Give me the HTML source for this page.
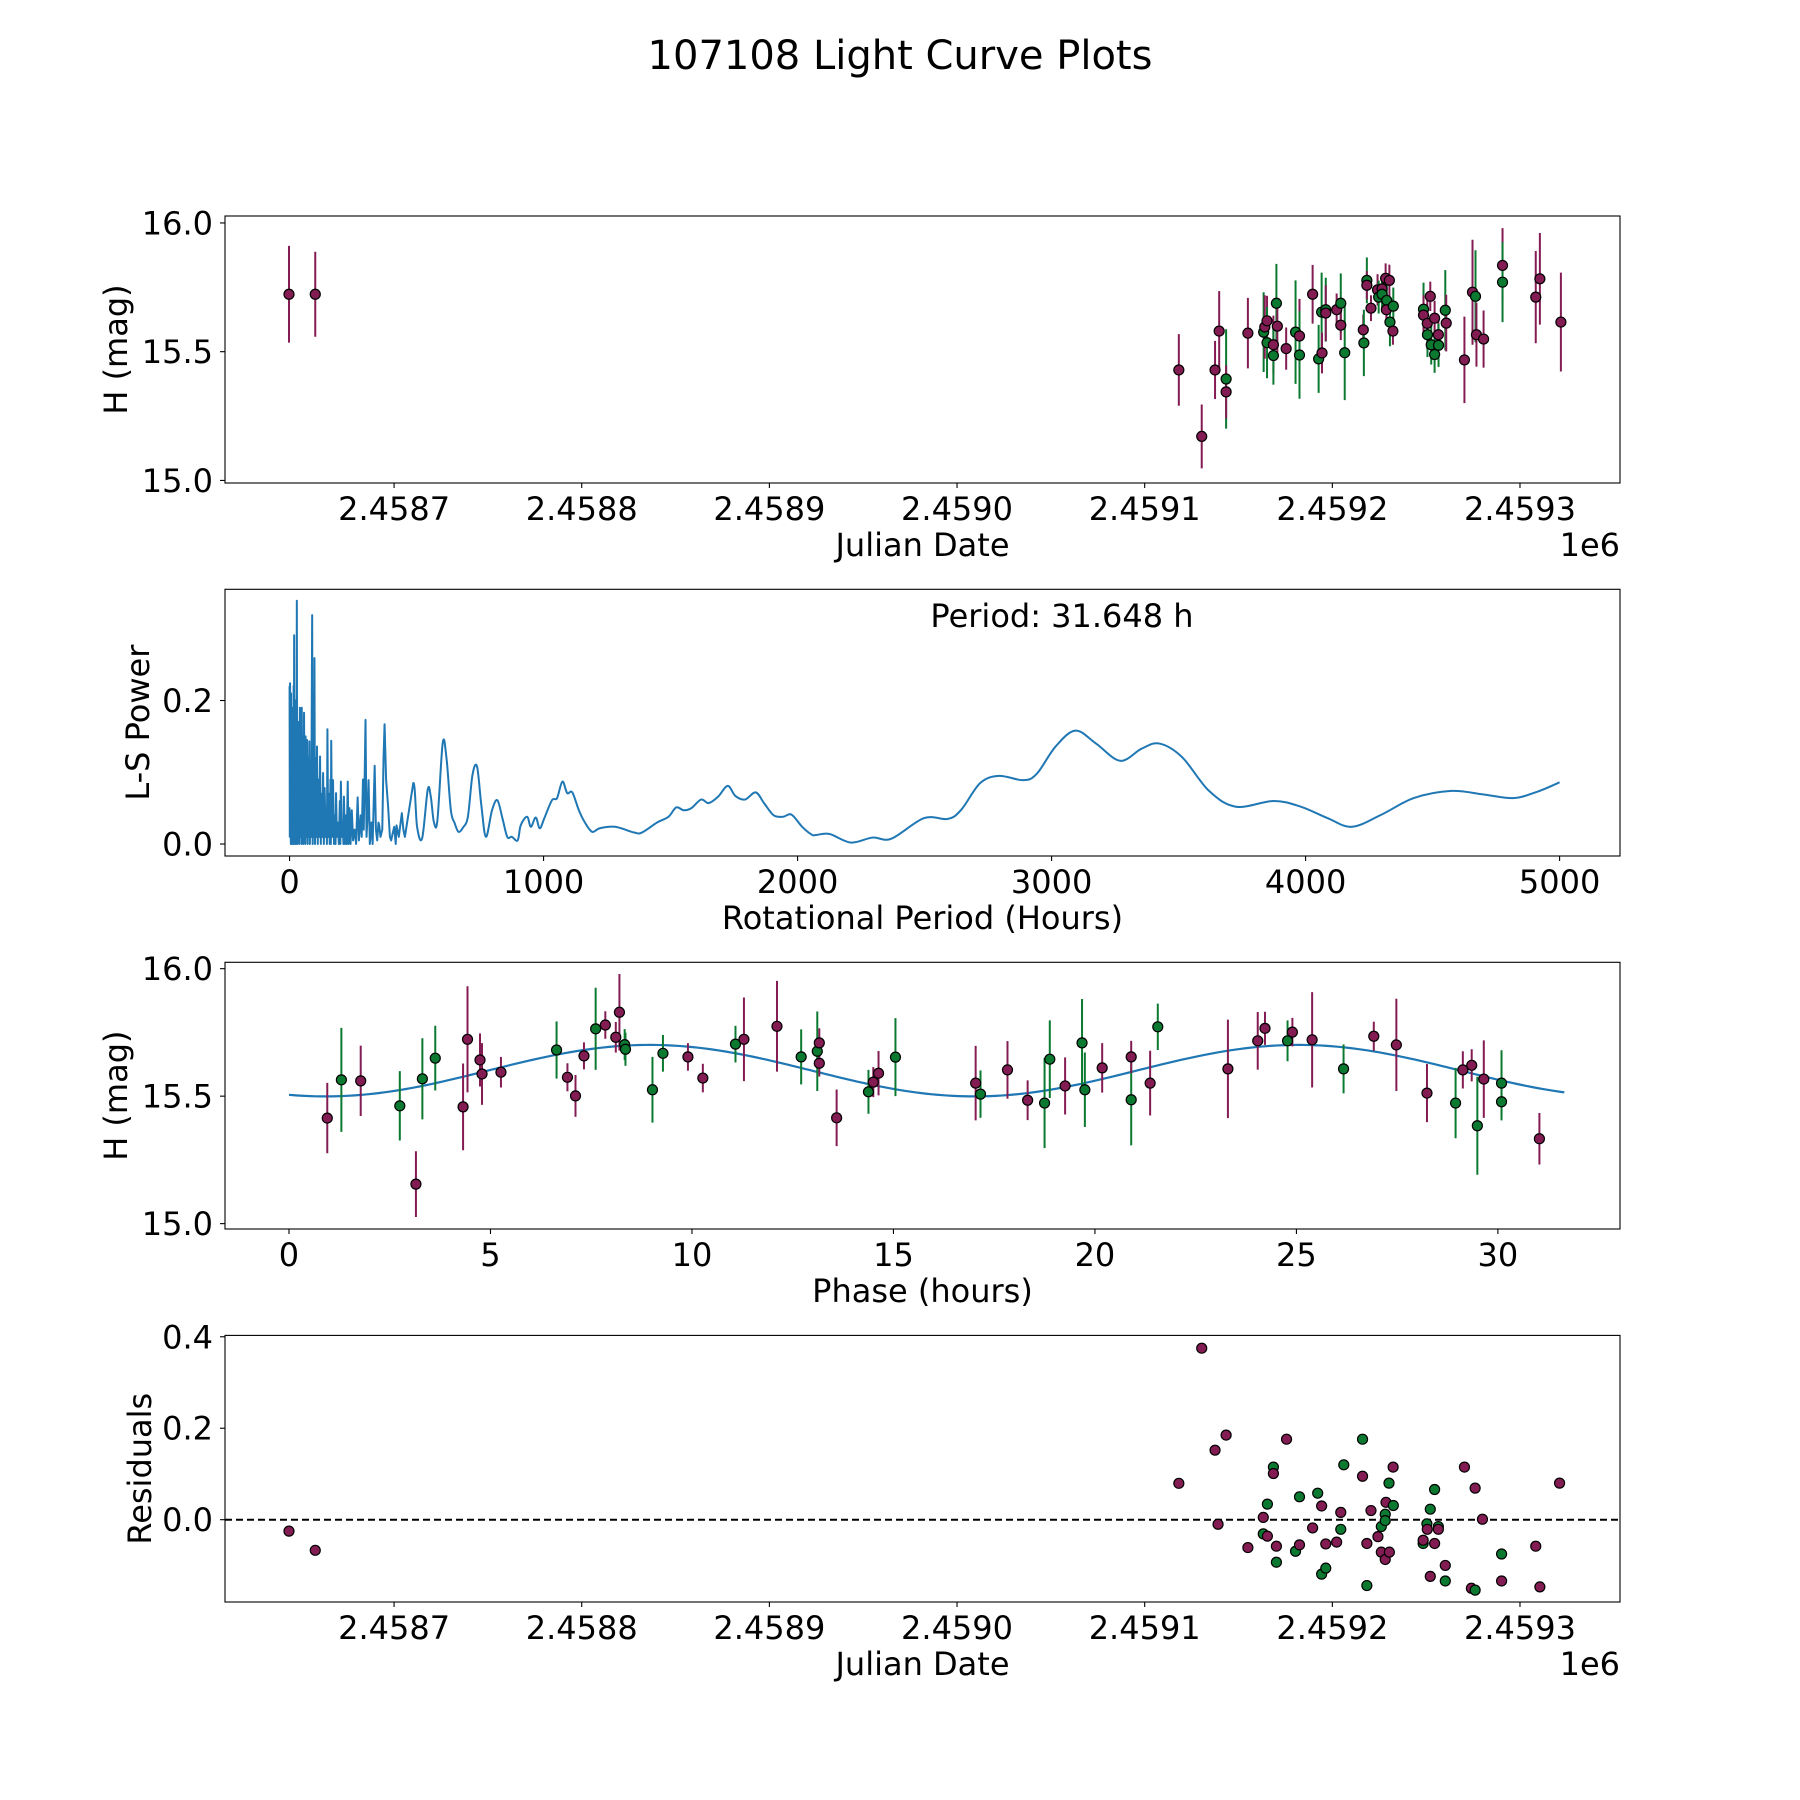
<!DOCTYPE html>
<html><head><meta charset="utf-8"><title>107108 Light Curve Plots</title>
<style>html,body{margin:0;padding:0;background:#fff}svg{display:block}text{font-family:"DejaVu Sans","Liberation Sans",sans-serif;fill:#000}</style>
</head><body>
<svg id="fig" xmlns="http://www.w3.org/2000/svg" width="1800" height="1800" viewBox="0 0 1800 1800">
<rect x="0" y="0" width="1800" height="1800" fill="#fff"/>
<text x="900" y="69" font-size="40" text-anchor="middle">107108 Light Curve Plots</text>
</svg>
<script>
// ---- Panel 1: light curve (JD, mag, err, band) ----
const lcJD=[2458644,2458658,2459118.2,2459130.4,2459137.5,2459139.7,2459143.4,2459143.4,2459155.0,2459163.4,2459164.0,2459165.2,2459165.2,2459168.6,2459168.6,2459170.2,2459170.7,2459175.4,2459180.4,2459182.5,2459182.5,2459189.5,2459192.7,2459194.3,2459194.5,2459196.5,2459196.5,2459202.3,2459204.5,2459204.5,2459206.6,2459216.5,2459216.8,2459218.4,2459218.4,2459220.6,2459224.1,2459224.7,2459226.5,2459226.5,2459228.4,2459229.0,2459228.8,2459230.4,2459230.7,2459232.5,2459232.3,2459248.6,2459248.6,2459250.6,2459250.7,2459252.2,2459252.7,2459254.5,2459254.5,2459256.5,2459256.6,2459260.2,2459260.7,2459270.4,2459274.7,2459276.3,2459276.8,2459280.6,2459290.7,2459290.7,2459308.4,2459310.6,2459321.8];
const lcMag=[15.723,15.723,15.429,15.171,15.429,15.580,15.394,15.344,15.572,15.576,15.596,15.620,15.535,15.527,15.485,15.688,15.599,15.512,15.576,15.561,15.487,15.723,15.472,15.654,15.495,15.663,15.650,15.663,15.688,15.603,15.496,15.585,15.534,15.777,15.758,15.669,15.740,15.712,15.744,15.723,15.785,15.699,15.663,15.777,15.615,15.677,15.580,15.665,15.642,15.610,15.566,15.715,15.527,15.630,15.489,15.566,15.525,15.661,15.611,15.468,15.731,15.715,15.566,15.549,15.835,15.770,15.712,15.783,15.615];
const lcErr=[0.188,0.165,0.139,0.124,0.113,0.155,0.193,0.103,0.137,0.155,0.123,0.097,0.138,0.113,0.113,0.153,0.103,0.082,0.201,0.144,0.170,0.114,0.132,0.153,0.079,0.124,0.108,0.063,0.116,0.058,0.184,0.059,0.129,0.089,0.055,0.050,0.061,0.064,0.052,0.055,0.058,0.061,0.061,0.061,0.094,0.072,0.053,0.103,0.077,0.100,0.087,0.057,0.077,0.068,0.071,0.061,0.084,0.156,0.110,0.168,0.204,0.179,0.124,0.111,0.145,0.155,0.179,0.178,0.192];
const lcBand=['M','M','M','M','M','M','G','M','M','G','M','M','G','M','G','G','M','M','G','M','G','M','G','G','M','G','M','M','G','M','G','M','G','G','M','M','M','G','M','G','M','G','M','M','G','G','M','G','M','M','G','M','G','M','G','M','G','G','M','M','M','G','M','M','M','G','M','M','M'];
const jdTicks=[2458700,2458800,2458900,2459000,2459100,2459200,2459300];
const jdTickLabels=['2.4587','2.4588','2.4589','2.4590','2.4591','2.4592','2.4593'];
const magTicks=[15.0,15.5,16.0];
const magTickLabels=['15.0','15.5','16.0'];

// ---- Panel 2: periodogram ----
const lsPeriod=[0,1,2,3,4,5,6,7,8,9,10,11,12,13,14,15,16,17,18,19,20,21,22,23,24,25,26,27,28.6,30,32,34,36,38,40.6,43,45,47,48,50,52,54,57,59,61,62,63,66,69,71,74,76,78,80,83,85,89,91,94,96,98,100,103,106,108,111,114,117,120,123,126,129,132,135,138,142,145,147,149,152,155,158,161,162.5,164,167,171,175,179,181,183,186,190,194,198,200,202,206,210,212,214,218,222,225,229,232,236,240,245,250,256,262,268,273,280,284,289,292,296,299,303,307,311,316,322,327,335,340,345,350,353,358,365,370,374,380,388,395,400,406,412,418,421,430,442,448,454,487,502,522,544,556,568,582,603,618,635,650,665,683,702,720,738,755,773,797,818,838,857,875,898,910,935,950,969,985,1003,1033,1053,1074,1093,1113,1139,1161,1191,1221,1281,1357,1387,1447,1492,1522,1552,1582,1620,1650,1687,1725,1755,1793,1835,1868,1906,1943,1976,2018,2056,2073,2126,2210,2295,2369,2497,2592,2645,2719,2793,2889,2942,3016,3094,3175,3270,3355,3425,3514,3620,3726,3875,3981,4087,4182,4299,4426,4574,4701,4818,4913,5000];
const lsPower=[0.22,0.01,0.224,0.02,0.18,0.0,0.21,0.01,0.15,0.0,0.19,0.02,0.12,0.0,0.17,0.01,0.22,0.0,0.291,0.01,0.16,0.0,0.14,0.02,0.2,0.0,0.13,0.01,0.339,0.0,0.15,0.01,0.17,0.0,0.19,0.01,0.12,0.0,0.19,0.02,0.14,0.0,0.183,0.01,0.11,0.0,0.15,0.01,0.145,0.0,0.12,0.01,0.143,0.0,0.1,0.01,0.319,0.0,0.2,0.01,0.259,0.0,0.12,0.01,0.136,0.0,0.09,0.01,0.122,0.0,0.07,0.01,0.099,0.0,0.078,0.01,0.05,0.0,0.16,0.01,0.07,0.0,0.09,0.0,0.144,0.01,0.089,0.0,0.04,0.0,0.071,0.01,0.03,0.0,0.06,0.0,0.087,0.01,0.03,0.0,0.066,0.0,0.04,0.0,0.087,0.0,0.05,0.0,0.047,0.005,0.02,0.0,0.065,0.005,0.04,0.01,0.09,0.02,0.1,0.173,0.01,0.04,0.089,0.0,0.03,0.0,0.109,0.02,0.005,0.03,0.026,0.01,0.02,0.12,0.167,0.09,0.052,0.01,0.005,0.015,0.024,0.0,0.026,0.01,0.043,0.02,0.01,0.085,0.024,0.008,0.076,0.066,0.031,0.033,0.141,0.119,0.047,0.029,0.017,0.023,0.038,0.096,0.108,0.054,0.010,0.047,0.061,0.036,0.010,0.010,0.005,0.026,0.038,0.024,0.037,0.022,0.036,0.061,0.064,0.087,0.071,0.072,0.047,0.031,0.017,0.022,0.024,0.016,0.016,0.030,0.038,0.051,0.047,0.050,0.062,0.057,0.066,0.081,0.067,0.062,0.072,0.057,0.040,0.038,0.041,0.024,0.013,0.0126,0.014,0.002,0.009,0.0074,0.036,0.035,0.048,0.085,0.095,0.089,0.098,0.136,0.158,0.140,0.116,0.133,0.140,0.121,0.074,0.052,0.060,0.052,0.036,0.024,0.041,0.064,0.074,0.069,0.064,0.073,0.086];
const perTicks=[0,1000,2000,3000,4000,5000];
const perTickLabels=['0','1000','2000','3000','4000','5000'];
const powTicks=[0.0,0.2];
const powTickLabels=['0.0','0.2'];
const periodLabel='Period: 31.648 h';

// ---- Panel 3: phased light curve ----
const phPhase=[0.95,1.30,1.78,2.75,3.15,3.31,3.63,4.32,4.43,4.74,4.79,5.26,6.64,6.91,7.11,7.32,7.61,7.85,8.11,8.20,8.33,8.35,9.02,9.28,9.90,10.27,11.08,11.29,12.11,12.71,13.11,13.16,13.16,13.59,14.38,14.50,14.63,15.05,17.04,17.16,17.83,18.33,18.75,18.88,19.26,19.68,19.75,20.18,20.90,20.90,21.37,21.56,23.30,24.04,24.22,24.78,24.90,25.39,26.17,26.92,27.48,28.24,28.95,29.13,29.35,29.49,29.65,30.09,30.09,31.03];
const phMag=[15.414,15.564,15.560,15.462,15.155,15.568,15.649,15.458,15.723,15.642,15.587,15.594,15.681,15.574,15.501,15.658,15.764,15.779,15.731,15.829,15.702,15.684,15.525,15.668,15.654,15.571,15.704,15.723,15.774,15.654,15.676,15.709,15.629,15.415,15.517,15.555,15.590,15.653,15.551,15.508,15.603,15.484,15.473,15.645,15.540,15.709,15.525,15.611,15.486,15.654,15.551,15.772,15.607,15.717,15.766,15.717,15.751,15.721,15.607,15.735,15.701,15.512,15.473,15.603,15.621,15.384,15.567,15.551,15.478,15.333];
const phErr=[0.138,0.204,0.138,0.136,0.129,0.159,0.127,0.170,0.208,0.104,0.121,0.060,0.112,0.055,0.082,0.053,0.161,0.054,0.060,0.150,0.061,0.065,0.129,0.072,0.054,0.056,0.072,0.164,0.178,0.108,0.156,0.057,0.052,0.111,0.086,0.059,0.087,0.153,0.146,0.093,0.113,0.078,0.177,0.152,0.112,0.172,0.146,0.097,0.179,0.063,0.127,0.091,0.193,0.113,0.065,0.080,0.056,0.187,0.096,0.057,0.181,0.114,0.138,0.073,0.063,0.192,0.152,0.129,0.073,0.101];
const phBand=['M','G','M','G','M','G','G','M','M','M','M','M','G','M','M','M','G','M','M','M','G','G','G','G','M','M','G','M','M','G','G','M','M','M','G','M','M','G','M','G','M','M','G','G','M','G','G','M','G','M','M','G','M','M','M','G','M','M','G','M','M','M','G','M','M','G','M','G','G','M'];
const phTicks=[0,5,10,15,20,25,30];
const phTickLabels=['0','5','10','15','20','25','30'];
// fitted sinusoid model parameters
const modelMean=[15.600];
const modelAmp=[0.101];
const modelZero=[4.93];
const modelSubPeriod=[16.1];
const modelRange=[0,31.648];

// ---- Panel 4: residuals ----
const resJD=[2458644,2458658,2459118.2,2459130.4,2459137.5,2459139.1,2459143.4,2459155.0,2459163.2,2459163.2,2459165.4,2459165.4,2459168.6,2459168.6,2459170.2,2459170.2,2459175.6,2459180.4,2459182.5,2459182.5,2459189.5,2459192.2,2459194.3,2459194.3,2459196.5,2459196.5,2459202.3,2459204.5,2459204.5,2459206.1,2459216.1,2459216.1,2459218.4,2459218.4,2459220.6,2459224.3,2459226.1,2459226.1,2459228.2,2459228.2,2459228.2,2459228.6,2459230.2,2459230.4,2459232.4,2459232.5,2459248.4,2459248.4,2459250.4,2459250.6,2459252.2,2459252.2,2459254.5,2459254.5,2459256.5,2459256.5,2459260.2,2459260.2,2459270.4,2459274.1,2459276.1,2459276.1,2459280.0,2459290.2,2459290.2,2459308.4,2459310.6,2459321.1];
const resVal=[-0.025,-0.067,0.0795,0.375,0.152,-0.010,0.185,-0.061,-0.031,0.005,0.034,-0.036,0.115,0.101,-0.058,-0.093,0.176,-0.069,0.050,-0.055,-0.018,0.058,0.030,-0.119,-0.106,-0.053,-0.049,0.016,-0.021,0.120,0.176,0.095,-0.052,-0.144,0.020,-0.037,-0.015,-0.071,0.012,-0.002,-0.087,0.038,0.080,-0.071,0.115,0.031,-0.052,-0.045,-0.009,-0.021,0.023,-0.124,0.066,-0.052,-0.015,-0.021,-0.100,-0.134,0.115,-0.150,-0.154,0.069,0.001,-0.075,-0.134,-0.058,-0.147,0.080];
const resBand=['M','M','M','M','M','M','M','M','G','M','G','M','G','M','M','G','M','G','G','M','M','G','M','G','G','M','M','M','G','G','G','M','M','G','M','M','G','M','G','G','M','M','G','M','M','G','G','M','G','M','G','M','G','M','G','M','M','G','M','M','G','M','M','G','M','M','M','M'];
const resTicks=[0.0,0.2,0.4];
const resTickLabels=['0.0','0.2','0.4'];

// ---------- rendering ----------
const NS='http://www.w3.org/2000/svg';
const svg=document.getElementById('fig');
const COL={M:'#841c54',G:'#0b7a30'};
function mk(tag,attrs,parent){const e=document.createElementNS(NS,tag);for(const k in attrs)e.setAttribute(k,attrs[k]);(parent||svg).appendChild(e);return e;}
function lin(d0,d1,r0,r1){return v=>r0+(v-d0)*(r1-r0)/(d1-d0);}
const L=225,R=1620,FS=32;
const panels=[{t:216,b:483},{t:589.3,b:856},{t:962.3,b:1229},{t:1335.4,b:1602}];
const xJD=lin(2458700-90.1,2458700+653.3,L,R);
const y1=lin(14.99,16.027,483,216);
const xP=lin(-254.2,5237.8,L,R);
const y2=lin(-0.0167,0.355,856,589.3);
const xPh=lin(-1.588,33.03,L,R);
const y3=lin(14.979,16.025,1229,962.3);
const y4=lin(-0.180,0.403,1602,1335.4);

function axes(i,xs,ys,xt,xtl,yt,ytl,xlab,ylab,ylabX,name){
  const p=panels[i];
  const g=mk('g',{});
  
  
  xt.forEach((v,k)=>{const x=xs(v);
    const tk=mk('line',{x1:x,x2:x,y1:p.b,y2:p.b+5,stroke:'#000','stroke-width':1.1},g);
    
    
    const tl=mk('text',{x:x,y:p.b+37,'font-size':FS,'text-anchor':'middle'},g);
    
    
    tl.textContent=xtl[k];});
  yt.forEach((v,k)=>{const y=ys(v);
    const tk=mk('line',{x1:L-5,x2:L,y1:y,y2:y,stroke:'#000','stroke-width':1.1},g);
    
    
    const tl=mk('text',{x:L-12,y:y+11.5,'font-size':FS,'text-anchor':'end'},g);
    
    
    tl.textContent=ytl[k];});
  const xl=mk('text',{x:(L+R)/2,y:p.b+73,'font-size':FS,'text-anchor':'middle'},g);
  
  
  xl.textContent=xlab;
  const cy=(p.t+p.b)/2;
  const yl=mk('text',{x:ylabX,y:cy,'font-size':FS,'text-anchor':'middle','dominant-baseline':'central',transform:'rotate(-90 '+ylabX+' '+cy+')'},g);
  
  
  yl.textContent=ylab;
  return g;
}
function frame(i,name){const p=panels[i];
  const f=mk('rect',{x:L,y:p.t,width:R-L,height:p.b-p.t,fill:'none',stroke:'#000','stroke-width':1.1});
  
  }
function errPoints(xs,ys,X,Y,E,B,name){
  const g=mk('g',{});
  
  
  X.forEach((v,k)=>{const x=xs(v);
    const l=mk('line',{x1:x,x2:x,y1:ys(Y[k]-E[k]),y2:ys(Y[k]+E[k]),stroke:COL[B[k]],'stroke-width':2},g);
    
    });
  X.forEach((v,k)=>{
    const c=mk('circle',{cx:xs(v),cy:ys(Y[k]),r:5,fill:COL[B[k]],stroke:'#000','stroke-width':1.2},g);
    
    });
}
// Panel 1
axes(0,xJD,y1,jdTicks,jdTickLabels,magTicks,magTickLabels,'Julian Date','H (mag)',116,'light-curve');
errPoints(xJD,y1,lcJD,lcMag,lcErr,lcBand,'light-curve-points');
frame(0,'light-curve');
let off=mk('text',{x:R,y:panels[0].b+73,'font-size':FS,'text-anchor':'end'});


off.textContent='1e6';
// Panel 2
axes(1,xP,y2,perTicks,perTickLabels,powTicks,powTickLabels,'Rotational Period (Hours)','L-S Power',138,'periodogram');
const pts=lsPeriod.map((v,k)=>[xP(v),y2(lsPower[k])]);
let d='M'+pts[0][0].toFixed(2)+' '+pts[0][1].toFixed(2);
for(let k=1;k<pts.length;k++){
  if(lsPeriod[k]<=487){d+='L'+pts[k][0].toFixed(2)+' '+pts[k][1].toFixed(2);continue;}
  const p0=pts[k-2]||pts[k-1],p1=pts[k-1],p2=pts[k],p3=pts[k+1]||pts[k];
  const c1=[p1[0]+(p2[0]-p0[0])/6,p1[1]+(p2[1]-p0[1])/6];
  const c2=[p2[0]-(p3[0]-p1[0])/6,p2[1]-(p3[1]-p1[1])/6];
  d+='C'+c1[0].toFixed(2)+' '+c1[1].toFixed(2)+' '+c2[0].toFixed(2)+' '+c2[1].toFixed(2)+' '+p2[0].toFixed(2)+' '+p2[1].toFixed(2);
}
const pl=mk('path',{d:d,fill:'none',stroke:'#1f77b4','stroke-width':2,'stroke-linejoin':'round'});


frame(1,'periodogram');
const pt=mk('text',{x:L+0.6*(R-L),y:627,'font-size':FS,'text-anchor':'middle'});


pt.textContent=periodLabel;
// Panel 3
axes(2,xPh,y3,phTicks,phTickLabels,magTicks,magTickLabels,'Phase (hours)','H (mag)',116,'phased-curve');
let md='';const N=240;
for(let k=0;k<=N;k++){const ph=modelRange[0]+(modelRange[1]-modelRange[0])*k/N;
  const m=modelMean[0]+modelAmp[0]*Math.sin(2*Math.PI*(ph-modelZero[0])/modelSubPeriod[0]);
  md+=(k?'L':'M')+xPh(ph).toFixed(2)+' '+y3(m).toFixed(2);}
const ml=mk('path',{d:md,fill:'none',stroke:'#1f77b4','stroke-width':2.2});


errPoints(xPh,y3,phPhase,phMag,phErr,phBand,'phased-points');
frame(2,'phased-curve');
// Panel 4
axes(3,xJD,y4,jdTicks,jdTickLabels,resTicks,resTickLabels,'Julian Date','Residuals',140,'residuals');
const zl=mk('line',{x1:L,x2:R,y1:y4(0),y2:y4(0),stroke:'#000','stroke-width':2,'stroke-dasharray':'7,4'});


const rg=mk('g',{});


resJD.forEach((v,k)=>{const c=mk('circle',{cx:xJD(v),cy:y4(resVal[k]),r:5,fill:COL[resBand[k]],stroke:'#000','stroke-width':1.2},rg);
  
  });
frame(3,'residuals');
const off2=mk('text',{x:R,y:panels[3].b+73,'font-size':FS,'text-anchor':'end'});


off2.textContent='1e6';
</script>
</body></html>
